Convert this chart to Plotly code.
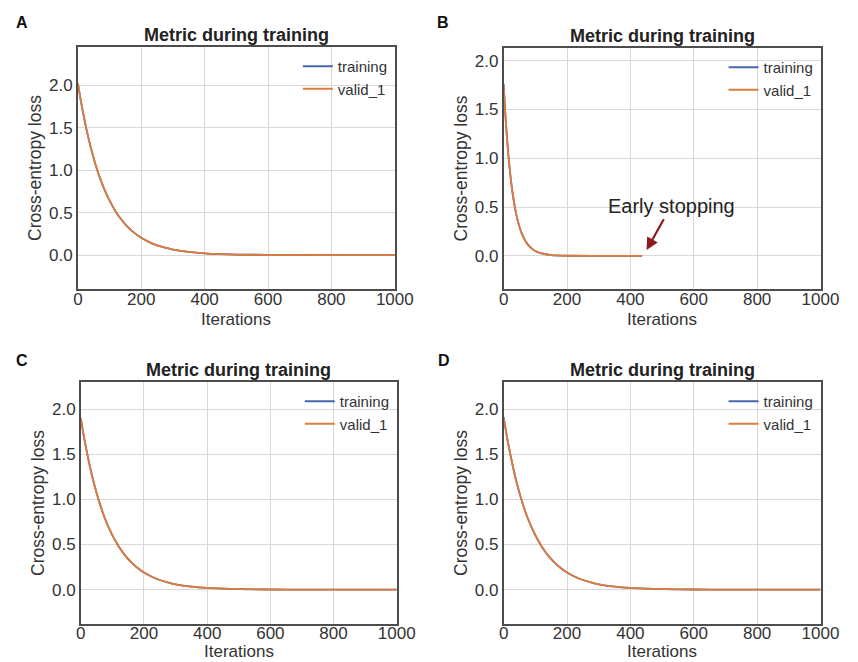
import plotly.graph_objects as go

W, H = 858, 662

# ---- data ----
iters_full = [0, 10, 20, 30, 40, 50, 60, 70, 80, 90, 100, 120, 140, 160, 180, 200,
              225, 250, 275, 300, 350, 400, 450, 500, 600, 700, 800, 900, 1000]
loss_A = [2.02, 1.80, 1.605, 1.43, 1.275, 1.137, 1.013, 0.903, 0.805, 0.718, 0.640,
          0.508, 0.404, 0.321, 0.255, 0.203, 0.152, 0.114, 0.086, 0.064, 0.036, 0.020,
          0.011, 0.006, 0.002, 0.001, 0.0, 0.0, 0.0]
loss_C = [1.90, 1.69, 1.51, 1.345, 1.20, 1.07, 0.953, 0.85, 0.757, 0.675, 0.602,
          0.478, 0.38, 0.302, 0.24, 0.19, 0.143, 0.107, 0.081, 0.060, 0.034, 0.019,
          0.011, 0.006, 0.002, 0.001, 0.0, 0.0, 0.0]
loss_D = [1.91, 1.70, 1.515, 1.35, 1.20, 1.07, 0.955, 0.85, 0.758, 0.676, 0.603,
          0.479, 0.38, 0.302, 0.24, 0.19, 0.143, 0.107, 0.081, 0.060, 0.034, 0.019,
          0.011, 0.006, 0.002, 0.001, 0.0, 0.0, 0.0]
iters_B = [0, 5, 10, 15, 20, 25, 30, 40, 50, 60, 70, 80, 90, 100, 120, 150, 200, 300, 437]
loss_B = [1.76, 1.47, 1.23, 1.03, 0.862, 0.721, 0.603, 0.422, 0.295, 0.206, 0.144,
          0.101, 0.071, 0.049, 0.024, 0.008, 0.001, 0.0, 0.0]

x_ticks = [0, 200, 400, 600, 800, 1000]
y_ticks = [0.0, 0.5, 1.0, 1.5, 2.0]
series_names = ["training", "valid_1"]
panel_letters = ["A", "B", "C", "D"]
title_text = "Metric during training"
x_title = "Iterations"
y_title = "Cross-entropy loss"
note_text = "Early stopping"

BLUE = "#4468b0"
ORANGE = "#e07b39"
FONT = "Liberation Sans, Arial, sans-serif"
TXT = "#333333"


def fx(px):
    return px / W


def fy(py):
    return 1 - py / H


# panel geometry in window pixels: (x0, x1, ytop, ybottom), y-range, x-title bottom y
panels = [
    dict(px=(75, 401, 47, 289), yr=[-0.40, 2.45], x=iters_full, y=loss_A,
         letter=(18, 22), xt=330, ts=-6),
    dict(px=(513, 839, 48, 289), yr=[-0.34, 2.13], x=iters_B, y=loss_B,
         letter=(451, 22), xt=330, ts=-6),
    dict(px=(78, 403, 382, 624), yr=[-0.38, 2.30], x=iters_full, y=loss_C,
         letter=(18, 360), xt=662, ts=-7),
    dict(px=(513, 839, 382, 624), yr=[-0.38, 2.30], x=iters_full, y=loss_D,
         letter=(452, 361), xt=662, ts=-7),
]

fig = go.Figure()
annotations = []
for i, p in enumerate(panels):
    n = i + 1
    sfx = "" if n == 1 else str(n)
    x0, x1, yt, yb = p["px"]
    xd = [fx(x0), fx(x1)]
    yd = [fy(yb), fy(yt)]
    leg = "legend" if n == 1 else f"legend{n}"
    for name, col in zip(series_names, [BLUE, ORANGE]):
        fig.add_trace(go.Scatter(
            x=p["x"], y=p["y"], mode="lines", name=name,
            line=dict(color=col, width=1.8, shape="spline", smoothing=0.6),
            xaxis=f"x{sfx}", yaxis=f"y{sfx}", legend=leg, showlegend=True,
            hoverinfo="skip"))
    axcommon = dict(showline=True, mirror=True, linecolor="#4d4d4d", linewidth=1.6,
                    showgrid=True, gridcolor="#d9d9d9", gridwidth=1.1, zeroline=False,
                    ticks="", tickfont=dict(size=17, color=TXT, family=FONT))
    fig.update_layout(**{
        f"xaxis{sfx}": dict(domain=xd, range=[0, 1000], tickvals=x_ticks,
                            anchor=f"y{sfx}", ticklabelstandoff=p["ts"], **axcommon),
        f"yaxis{sfx}": dict(domain=yd, range=p["yr"], tickvals=y_ticks, tickformat=".1f",
                            anchor=f"x{sfx}",
                            title=dict(text=y_title, standoff=3,
                                       font=dict(size=17.5, color=TXT, family=FONT)),
                            **axcommon),
        leg: dict(x=fx(x1 - 2), y=fy(yt + 3), xanchor="right", yanchor="top",
                  bgcolor="rgba(255,255,255,0)", borderwidth=0, tracegroupgap=0,
                  itemwidth=30, font=dict(size=15, color=TXT, family=FONT)),
    })
    # x-axis title
    annotations.append(dict(text=x_title, x=fx((x0 + x1) / 2), y=fy(p["xt"]),
                            xref="paper", yref="paper", xanchor="center", yanchor="bottom",
                            showarrow=False, borderpad=0,
                            font=dict(size=17, color=TXT, family=FONT)))
    # panel title
    annotations.append(dict(text=f"<b>{title_text}</b>", x=fx((x0 + x1) / 2),
                            y=fy(yt), xref="paper", yref="paper",
                            xanchor="center", yanchor="bottom", showarrow=False,
                            font=dict(size=18, color="#222222", family=FONT)))
    lx, ly = p["letter"]
    annotations.append(dict(text=f"<b>{panel_letters[i]}</b>", x=fx(lx), y=fy(ly),
                            xref="paper", yref="paper", xanchor="center", yanchor="middle",
                            showarrow=False, font=dict(size=16, color="#111111", family=FONT)))

# early stopping annotation in panel B
annotations.append(dict(text=note_text, x=531, y=0.51, xref="x2", yref="y2",
                        xanchor="center", yanchor="middle", showarrow=False,
                        font=dict(size=20, color="#222222", family=FONT)))
annotations.append(dict(text="", x=451, y=0.06, xref="x2", yref="y2",
                        ax=508, ay=0.39, axref="x2", ayref="y2",
                        showarrow=True, arrowhead=2, arrowsize=1.1, arrowwidth=2.2,
                        arrowcolor="#8b1a1a", standoff=0, startstandoff=0))

fig.update_layout(width=W, height=H, margin=dict(l=0, r=0, t=0, b=0),
                  paper_bgcolor="white", plot_bgcolor="white", hovermode=False,
                  annotations=annotations, font=dict(family=FONT))
fig.write_html("out.html", config={"displayModeBar": False},
               post_script="document.body.style.margin='0px';"
                           "document.body.style.overflow='hidden';")
